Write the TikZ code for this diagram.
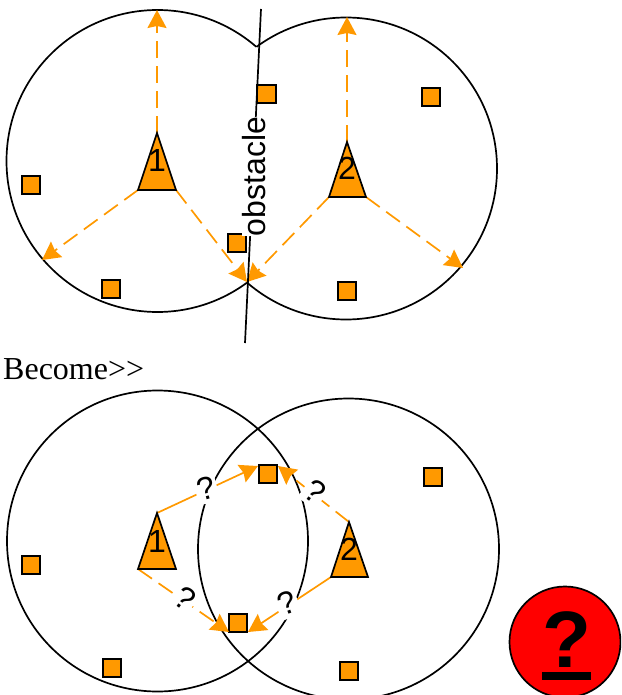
\documentclass[tikz,border=0pt]{standalone}
\usepackage{fontspec}
\setmainfont{Liberation Serif}[Ligatures=NoCommon]
\setsansfont{Liberation Sans}
\usetikzlibrary{arrows.meta}
\definecolor{org}{HTML}{FF9900}
\tikzset{
  ring/.style={draw=black,line width=1.7pt},
  tri/.style={draw=black,fill=org,line width=1.7pt,line join=miter},
  sq/.style={draw=black,fill=org,line width=1.7pt,minimum size=18.5pt,inner sep=0pt,outer sep=0pt},
  arr/.style={draw=org,line width=1.7pt,-{Stealth[length=18pt,width=19pt,inset=2pt]}},
  dsh/.style={arr,dash pattern=on 17pt off 8pt},
  lab/.style={font=\sffamily\fontsize{32}{36}\selectfont,inner sep=0pt},
  qm/.style={lab,fill=white,inner xsep=2pt,inner ysep=4pt},
}
\begin{document}
\begin{tikzpicture}[x=1pt,y=-1pt]
\useasboundingbox (0,0) rectangle (621,695);
\clip (0,0) rectangle (621,695);
% top circles, merged outline
\begin{scope}
  \clip (-10,-10) rectangle (640,360) (346,168.5) circle[radius=151];
  \draw[ring] (157.5,161) circle[radius=151];
\end{scope}
\begin{scope}
  \clip (-10,-10) rectangle (640,360) (157.5,161) circle[radius=151];
  \draw[ring] (346,168.5) circle[radius=151];
\end{scope}
% top vertices
\coordinate (a1) at (157,133); \coordinate (a1l) at (138,190); \coordinate (a1r) at (176,190);
\coordinate (a2) at (347,142); \coordinate (a2l) at (329,197); \coordinate (a2r) at (366,197);
\coordinate (up1) at (157,10); \coordinate (dl1) at (42,260);
\coordinate (meet) at (247,282); \coordinate (up2) at (347,17); \coordinate (dr2) at (463,268);
\draw[dsh] (a1) -- (up1);
\draw[dsh] (a1l) -- (dl1);
\draw[dsh] (a1r) -- (meet);
\draw[dsh] (a2l) -- (meet);
\draw[dsh] (a2) -- (up2);
\draw[dsh] (a2r) -- (dr2);
\draw[tri] (a1) -- (a1r) -- (a1l) -- cycle;
\draw[tri] (a2) -- (a2r) -- (a2l) -- cycle;
\node[lab] (n1) at (157,160) {1};
\node[lab] (n2) at (347,168) {2};
\node[sq] (s1) at (31,185) {};
\node[sq] (s2) at (111,289) {};
\node[sq] (s3) at (237,243) {};
\node[sq] (s4) at (266.5,94) {};
\node[sq] (s5) at (431,97) {};
\node[sq] (s6) at (347,291) {};
\coordinate (ob1) at (261,9); \coordinate (ob2) at (245,343);
\draw[line width=1.7pt] (ob1) -- (ob2);
\node[lab,fill=white,rotate=90] (obst) at (254,176.5) {obstacle};
\node[font=\rmfamily\fontsize{32}{36}\selectfont,inner sep=0pt,anchor=base west] (become) at (3,379) {Become{>}{>}};
% bottom circles
\draw[ring] (157.5,541) circle[radius=150.5];
\draw[ring] (348.5,549) circle[radius=150.5];
\coordinate (b1) at (157,513); \coordinate (b1l) at (138,569); \coordinate (b1r) at (176,569);
\coordinate (b2) at (349,522); \coordinate (b2l) at (331,577); \coordinate (b2r) at (368,577);
\node[sq] (t1) at (31,565) {};
\node[sq] (t2) at (112,668) {};
\node[sq] (t3) at (238,623) {};
\node[sq] (t4) at (268,474) {};
\node[sq] (t5) at (433,477) {};
\node[sq] (t6) at (349,671) {};
\coordinate (e1) at (258,466); \coordinate (e2) at (278,466);
\coordinate (e3) at (229,632); \coordinate (e4) at (248,632);
\draw[arr] (b1) -- (e1);
\draw[dsh] (b2) -- (e2);
\draw[dsh] (b1l) -- (e3);
\draw[arr] (b2l) -- (e4);
\draw[tri] (b1) -- (b1r) -- (b1l) -- cycle;
\draw[tri] (b2) -- (b2r) -- (b2l) -- cycle;
\node[lab] (m1) at (157,541) {1};
\node[lab] (m2) at (349,549) {2};
\node[qm,rotate=15] (q1) at (206,488) {?};
\node[qm,rotate=-35] (q2) at (315,491) {?};
\node[qm,rotate=-35] (q3) at (185,598) {?};
\node[qm,rotate=20] (q4) at (287,603) {?};
% help button
\node[draw=black,fill=red,line width=1.7pt,circle,minimum size=111pt,inner sep=0pt] (help) at (565,642) {};
\node[font=\sffamily\bfseries\fontsize{80}{90}\selectfont,inner sep=0pt,anchor=base] (hq) at (567,667) {?};
\fill[black] (541.5,671.5) rectangle (590.5,680);
\end{tikzpicture}
\end{document}
